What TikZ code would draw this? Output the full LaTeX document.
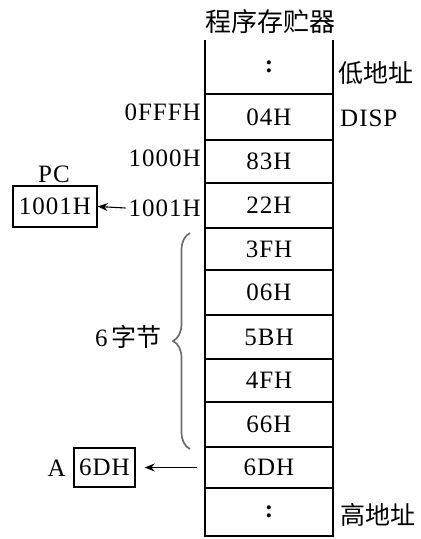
\documentclass[tikz,border=0pt]{standalone}
\usepackage{fontspec}
\setmainfont{Liberation Serif}[LetterSpace=4]
\newfontfamily\cjk{Noto Sans CJK SC}
\usetikzlibrary{decorations.pathreplacing,arrows.meta}
\begin{document}
\begin{tikzpicture}[x=1pt,y=-1pt,
  font=\fontsize{25}{27}\selectfont,
  cell/.style={rectangle,minimum width=128pt,inner sep=0pt},
  lbl/.style={inner sep=0pt},
  regbox/.style={draw,line width=1.4pt,inner sep=2pt},
  wire/.style={line width=1.1pt,-{Stealth[length=10pt,width=8pt]}},
  wall/.style={line width=1.6pt}]
\useasboundingbox (0,0) rectangle (421,539);
% title
\node[lbl] (title) at (270,22) {\fontsize{26}{28}\selectfont\cjk 程序存贮器};
% memory cells
\node[cell,minimum height=54pt] (r1) at (269,67) {\bfseries :};
\node[cell,minimum height=46pt] (r2) at (269,117) {\raisebox{-3pt}{04H}};
\node[cell,minimum height=43pt] (r3) at (269,161.5) {\raisebox{-2pt}{83H}};
\node[cell,minimum height=45pt] (r4) at (269,205.5) {22H};
\node[cell,minimum height=42pt] (r5) at (269,249) {3FH};
\node[cell,minimum height=45pt] (r6) at (269,292.5) {06H};
\node[cell,minimum height=44pt] (r7) at (269,337) {5BH};
\node[cell,minimum height=43pt] (r8) at (269,380.5) {4FH};
\node[cell,minimum height=45pt] (r9) at (269,424.5) {66H};
\node[cell,minimum height=41pt] (r10) at (269,467.5) {6DH};
\node[cell,minimum height=48pt] (r11) at (269,512) {\bfseries :};
\draw[wall] (r1.north west) -- (r11.south west) -- (r11.south east) -- (r1.north east);
\foreach \r in {r1,r2,r3,r4,r5,r6,r7,r8,r9,r10}
  \draw[wall] (\r.south west) -- (\r.south east);
% right labels
\node[lbl,anchor=west] (low) at (338,73) {\cjk 低地址};
\node[lbl,anchor=west] (disp) at (340,118) {DISP};
\node[lbl,anchor=west] (high) at (340,515) {\cjk 高地址};
% left address labels
\node[lbl,anchor=east] (a0fff) at (201,112) {0FFFH};
\node[lbl,anchor=east] (a1000) at (201,158) {1000H};
\node[lbl,anchor=east] (a1001) at (201,208) {1001H};
% PC register
\node[lbl] (pclbl) at (54,174) {PC};
\node[regbox,minimum width=84pt,minimum height=41pt,inner sep=0pt] (pc) at (55,206.5) {1001H};
\draw[wire] (a1001.west) ++(-3pt,0) coordinate (p1) -- (pc.east);
% A register
\node[regbox,minimum width=61pt,minimum height=39pt,inner sep=0pt] (areg) at (104.5,467.5) {6DH};
\node[lbl,anchor=east] (albl) at (66,468) {A};
\draw[wire,shorten >=9pt,shorten <=8pt] (r10.west) -- (areg.east);
% brace
\coordinate (bt) at (190,233);
\coordinate (bb) at (190,449);
\draw[gray!85!black,line width=1.7pt,decorate,decoration={brace,amplitude=17pt}] (bb) -- (bt)
  coordinate[pos=0.5] (bmid);
\node[lbl,anchor=east] (six) at (162,337) {6\,{\cjk 字节}};
\end{tikzpicture}
\end{document}
